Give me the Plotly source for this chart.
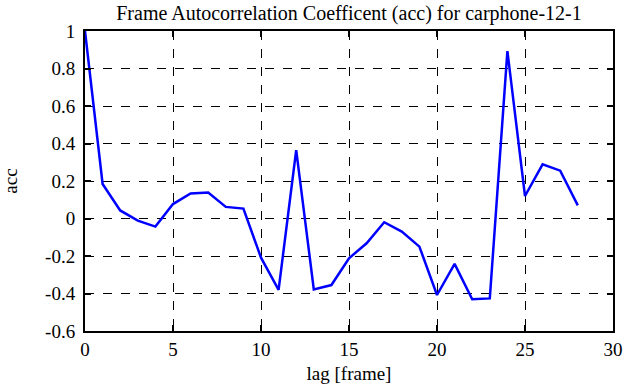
import plotly.graph_objects as go

lag = list(range(29))
acc = [1.0, 0.184, 0.043, -0.011, -0.043, 0.077, 0.134, 0.139, 0.062, 0.053,
       -0.209, -0.381, 0.365, -0.378, -0.355, -0.212, -0.132, -0.02, -0.07, -0.15,
       -0.408, -0.242, -0.431, -0.426, 0.893, 0.12, 0.289, 0.255, 0.07]

x_ticks = [0, 5, 10, 15, 20, 25, 30]
y_ticks = [-0.6, -0.4, -0.2, 0, 0.2, 0.4, 0.6, 0.8, 1]
y_labels = ["-0.6", "-0.4", "-0.2", "0", "0.2", "0.4", "0.6", "0.8", "1"]

font = "Liberation Serif"
fsize = 19

fig = go.Figure()
fig.add_trace(go.Scatter(x=lag, y=acc, mode="lines",
                         line=dict(color="#0000FF", width=2.5)))

axis_common = dict(
    showline=True, linecolor="black", linewidth=2, mirror="ticks",
    ticks="inside", ticklen=6, tickcolor="black", tickwidth=1.5,
    showgrid=True, gridcolor="black", gridwidth=1, griddash="dash",
    zeroline=False, automargin=False,
    tickfont=dict(family=font, size=fsize, color="black"),
)

fig.update_layout(
    width=641, height=387,
    margin=dict(l=85, r=28, t=31, b=56),
    paper_bgcolor="white", plot_bgcolor="white",
    showlegend=False,
    title=dict(text="Frame Autocorrelation Coefficent (acc) for carphone-12-1",
               x=(85 + 613) / 2 / 641, xanchor="center", y=1 - 13 / 387, yanchor="middle",
               font=dict(family=font, size=20, color="black")),
    xaxis=dict(range=[0, 30], tickvals=x_ticks, ticklabelstandoff=0,
               title=dict(text="lag [frame]", font=dict(family=font, size=fsize, color="black"), standoff=8),
               **axis_common),
    yaxis=dict(range=[-0.6, 1], tickvals=y_ticks, ticktext=y_labels, ticklabelstandoff=4,
               title=dict(text="acc", font=dict(family=font, size=fsize, color="black"), standoff=25),
               **axis_common),
)

fig.write_html("out.html", config={"displayModeBar": False},
               post_script="document.body.style.margin='0';document.body.style.overflow='hidden';")
